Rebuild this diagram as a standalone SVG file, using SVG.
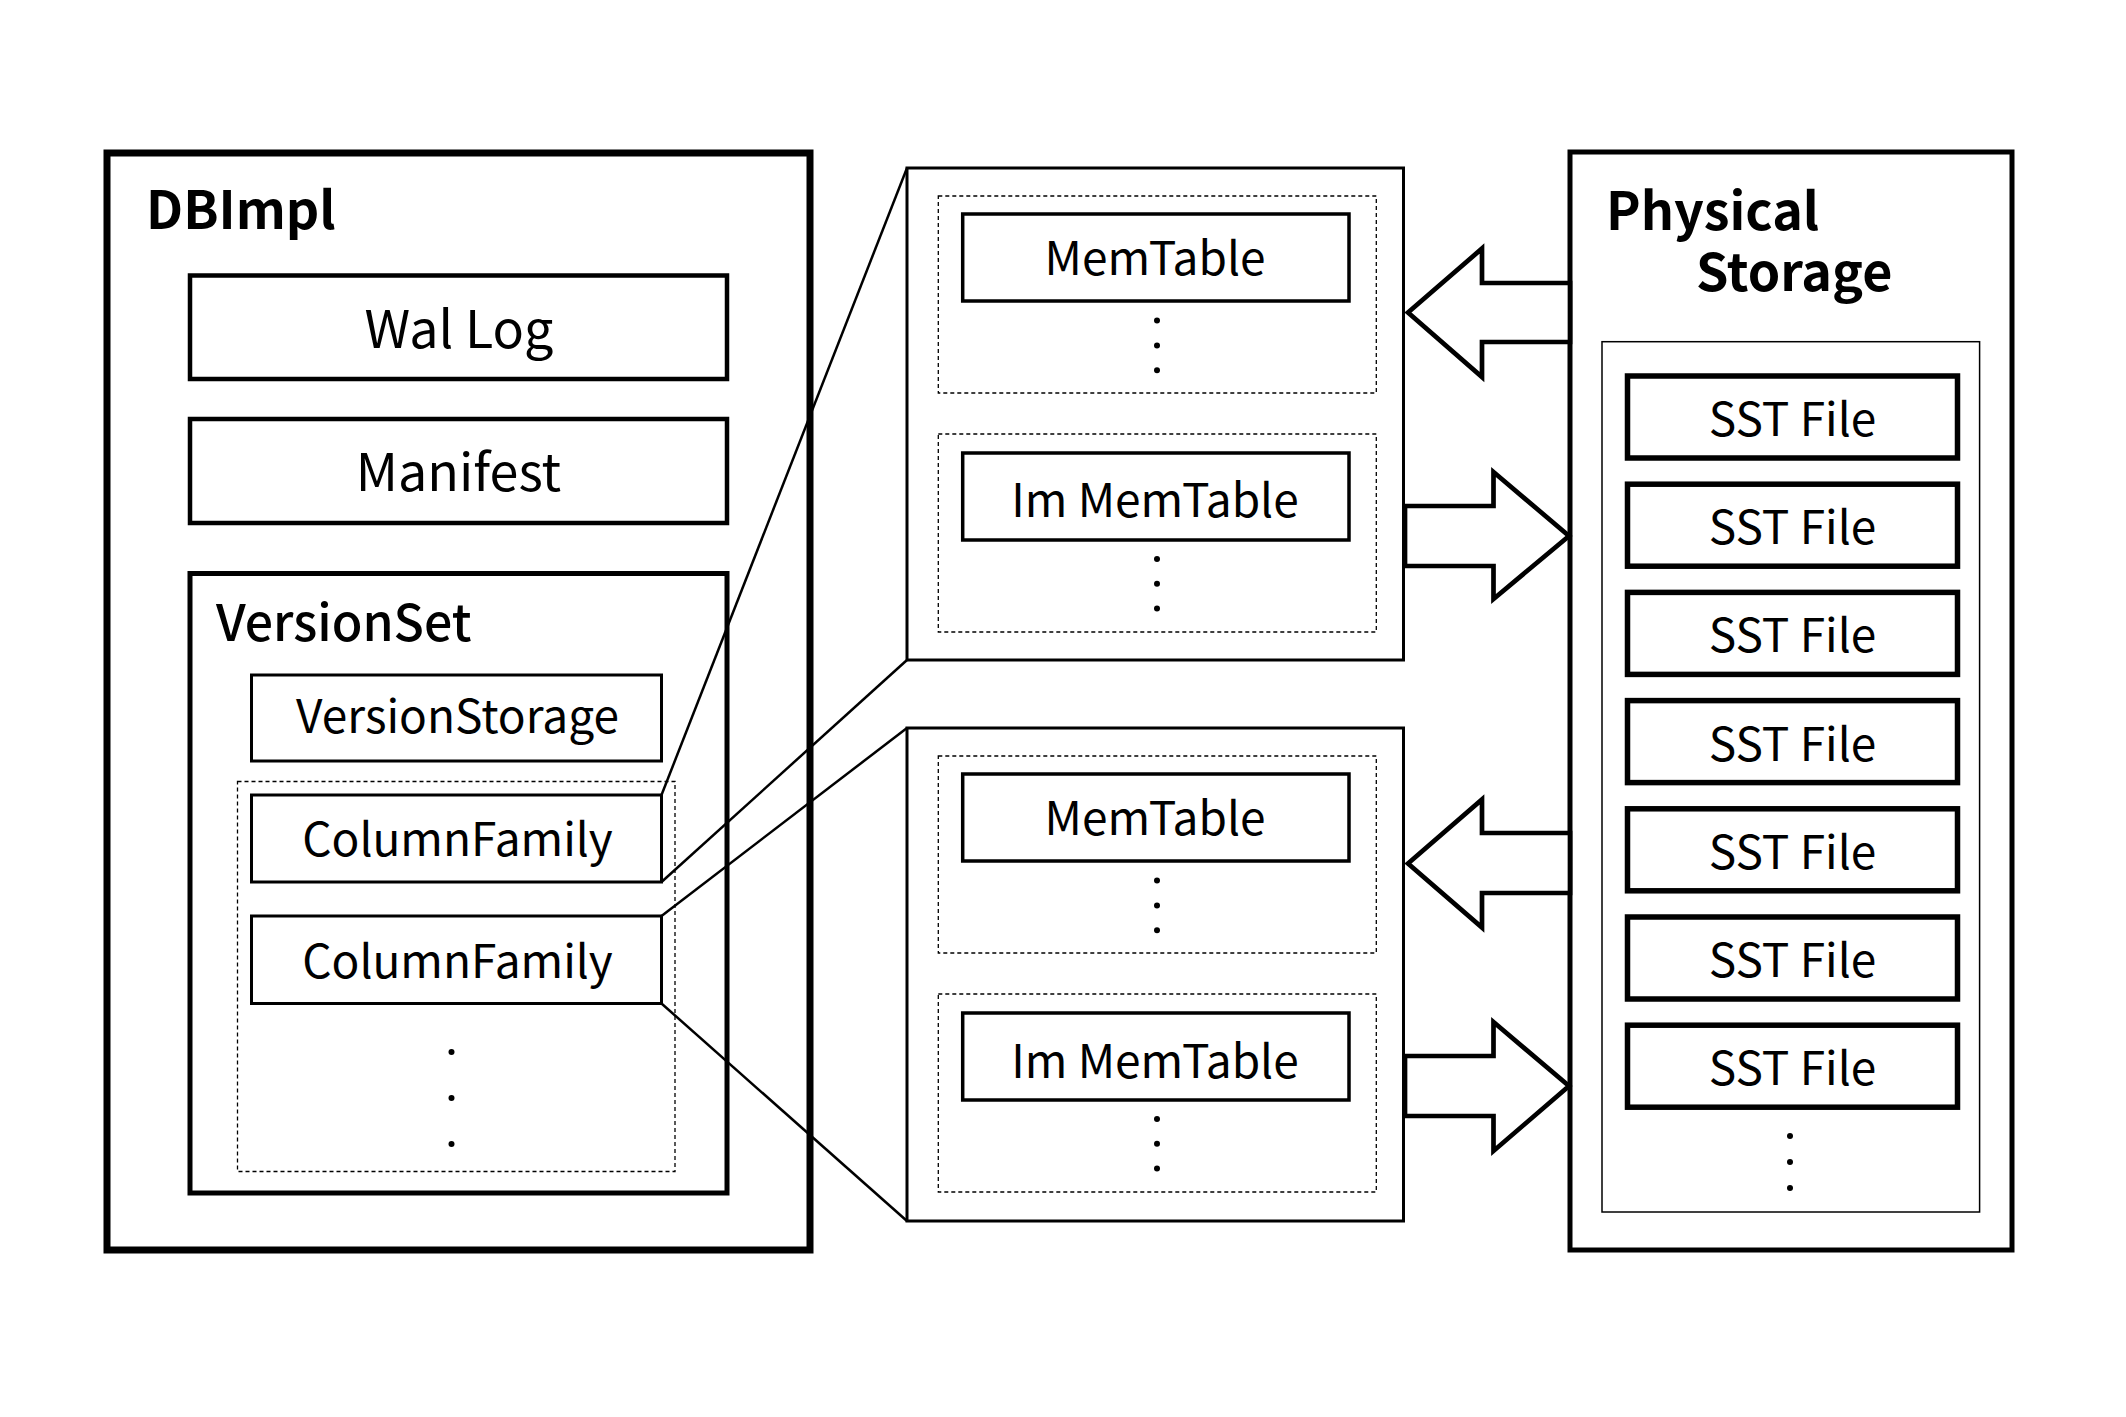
<svg xmlns="http://www.w3.org/2000/svg" width="2126" height="1417" viewBox="0 0 2126 1417">
<style>
  text { font-family: "Noto Sans CJK JP", "Noto Sans", sans-serif; fill: #000; }
  .title { font-weight: 700; font-size: 52px; }
  .big { font-size: 52px; text-anchor: middle; }
  .lbl { font-size: 46px; text-anchor: middle; }
  .vs { font-size: 50px; font-weight: 500; }
  .box { fill: #fff; stroke: #000; }
  .dash { fill: none; stroke: #000; stroke-width: 1.3; stroke-dasharray: 4 3; }
  .conn { stroke: #000; stroke-width: 2.5; fill: none; }
  .arrow { fill: #fff; stroke: #000; stroke-width: 4.7; stroke-linejoin: miter; }
  .dot { fill: #000; }
</style>
<rect width="2126" height="1417" fill="#fff"/>

<g id="dbimpl">
  <rect class="box" x="107" y="153" width="703" height="1097" stroke-width="7"/>
  <text class="title" x="146" y="229" font-size="54">DBImpl</text>
</g>
<g id="wallog">
  <rect class="box" x="190" y="275.5" width="537" height="103.5" stroke-width="4.5"/>
  <text class="big" x="459" y="348">Wal Log</text>
</g>
<g id="manifest">
  <rect class="box" x="190" y="419" width="537" height="104" stroke-width="4.5"/>
  <text class="big" x="458.5" y="491">Manifest</text>
</g>
<g id="versionset">
  <rect class="box" x="190" y="573.5" width="537" height="619.5" stroke-width="5"/>
  <text class="vs" x="216" y="641">VersionSet</text>
</g>
<g id="versionstorage">
  <rect class="box" x="251.5" y="675" width="410" height="86" stroke-width="3"/>
  <text class="lbl" x="457.5" y="733">VersionStorage</text>
</g>
<g id="cf-group">
  <rect class="dash" x="237.5" y="781.5" width="437.5" height="390"/>
  <circle class="dot" cx="451.5" cy="1052" r="3"/>
  <circle class="dot" cx="451.5" cy="1098" r="3"/>
  <circle class="dot" cx="451.5" cy="1144" r="3"/>
</g>
<g id="columnfamily1">
  <rect class="box" x="251.5" y="795" width="410" height="87" stroke-width="3"/>
  <text class="lbl" x="457.5" y="856">ColumnFamily</text>
</g>
<g id="columnfamily2">
  <rect class="box" x="251.5" y="916" width="410" height="87.5" stroke-width="3"/>
  <text class="lbl" x="457.5" y="978">ColumnFamily</text>
</g>

<g id="cf1-detail">
  <rect class="box" x="907" y="168" width="496.5" height="492" stroke-width="3"/>
  <rect class="dash" x="938.3" y="196" width="438" height="197"/>
  <rect class="box" x="962.7" y="214" width="386.3" height="87" stroke-width="3.5"/>
  <text class="lbl" x="1155" y="275">MemTable</text>
  <circle class="dot" cx="1157" cy="320.5" r="3"/>
  <circle class="dot" cx="1157" cy="345.4" r="3"/>
  <circle class="dot" cx="1157" cy="370.2" r="3"/>
  <rect class="dash" x="938.3" y="434" width="438" height="198"/>
  <rect class="box" x="962.7" y="453" width="386.3" height="87" stroke-width="3.5"/>
  <text class="lbl" x="1155" y="517">Im MemTable</text>
  <circle class="dot" cx="1157" cy="559" r="3"/>
  <circle class="dot" cx="1157" cy="583.8" r="3"/>
  <circle class="dot" cx="1157" cy="608.6" r="3"/>
</g>

<g id="cf2-detail">
  <rect class="box" x="907" y="728" width="496.5" height="493" stroke-width="3"/>
  <rect class="dash" x="938.3" y="756" width="438" height="197"/>
  <rect class="box" x="962.7" y="774" width="386.3" height="87" stroke-width="3.5"/>
  <text class="lbl" x="1155" y="835">MemTable</text>
  <circle class="dot" cx="1157" cy="880.5" r="3"/>
  <circle class="dot" cx="1157" cy="905.4" r="3"/>
  <circle class="dot" cx="1157" cy="930.2" r="3"/>
  <rect class="dash" x="938.3" y="994" width="438" height="198"/>
  <rect class="box" x="962.7" y="1013" width="386.3" height="87" stroke-width="3.5"/>
  <text class="lbl" x="1155" y="1078">Im MemTable</text>
  <circle class="dot" cx="1157" cy="1119" r="3"/>
  <circle class="dot" cx="1157" cy="1143.8" r="3"/>
  <circle class="dot" cx="1157" cy="1168.6" r="3"/>
</g>

<g id="physical-storage">
  <rect class="box" x="1570" y="152" width="442" height="1098" stroke-width="5"/>
  <text class="title" x="1606" y="230">Physical</text>
  <text class="title" x="1696" y="291">Storage</text>
  <rect x="1602" y="341.7" width="377.6" height="870.3" fill="none" stroke="#000" stroke-width="1.5"/>
</g>
<g id="sst1"><rect class="box" x="1627.5" y="376" width="330" height="82" stroke-width="5.5"/><text class="lbl" x="1792.5" y="436">SST File</text></g>
<g id="sst2"><rect class="box" x="1627.5" y="484.2" width="330" height="82" stroke-width="5.5"/><text class="lbl" x="1792.5" y="544.2">SST File</text></g>
<g id="sst3"><rect class="box" x="1627.5" y="592.4" width="330" height="82" stroke-width="5.5"/><text class="lbl" x="1792.5" y="652.4">SST File</text></g>
<g id="sst4"><rect class="box" x="1627.5" y="700.6" width="330" height="82" stroke-width="5.5"/><text class="lbl" x="1792.5" y="760.6">SST File</text></g>
<g id="sst5"><rect class="box" x="1627.5" y="808.8" width="330" height="82" stroke-width="5.5"/><text class="lbl" x="1792.5" y="868.8">SST File</text></g>
<g id="sst6"><rect class="box" x="1627.5" y="917" width="330" height="82" stroke-width="5.5"/><text class="lbl" x="1792.5" y="977">SST File</text></g>
<g id="sst7"><rect class="box" x="1627.5" y="1025.2" width="330" height="82" stroke-width="5.5"/><text class="lbl" x="1792.5" y="1085.2">SST File</text></g>
<g id="sst-more">
  <circle class="dot" cx="1790" cy="1136" r="3"/>
  <circle class="dot" cx="1790" cy="1162" r="3"/>
  <circle class="dot" cx="1790" cy="1188" r="3"/>
</g>

<g id="connectors">
  <line class="conn" x1="661.5" y1="795" x2="907" y2="168"/>
  <line class="conn" x1="661.5" y1="882" x2="907" y2="660"/>
  <line class="conn" x1="661.5" y1="916" x2="907" y2="728"/>
  <line class="conn" x1="661.5" y1="1003.5" x2="907" y2="1221"/>
  <polygon class="arrow" points="1408,312.5 1482,248.5 1482,283 1570,283 1570,342 1482,342 1482,377"/>
  <polygon class="arrow" points="1405,506 1493.5,506 1493.5,472 1569,536 1493.5,599 1493.5,566 1405,566"/>
  <polygon class="arrow" points="1408,863.5 1482,799.5 1482,833 1570,833 1570,893 1482,893 1482,927.5"/>
  <polygon class="arrow" points="1405,1056 1493.5,1056 1493.5,1022 1569,1086 1493.5,1151 1493.5,1116 1405,1116"/>
</g>
</svg>
